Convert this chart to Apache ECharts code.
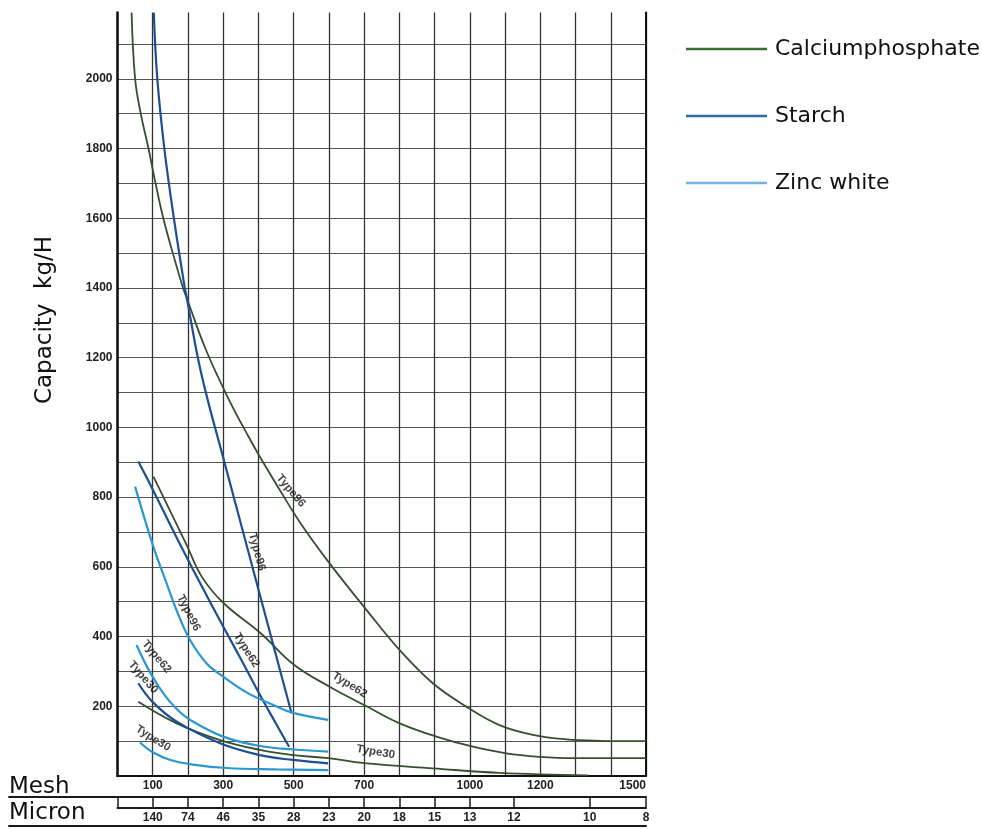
<!DOCTYPE html>
<html><head><meta charset="utf-8">
<script src="https://cdn.jsdelivr.net/npm/echarts@6/dist/echarts.min.js"></script>
<style>html,body{margin:0;padding:0;background:#fff}#c{width:982px;height:829px}</style>
</head><body><div id="c"></div>
<script>
// ---- tick labels ----
const meshTicks = [100, 300, 500, 700, 1000, 1200, 1500];
const capTicks = [200, 400, 600, 800, 1000, 1200, 1400, 1600, 1800, 2000];
const micronMesh = [100, 200, 300, 400, 500, 600, 700, 800, 900, 1000, 1125, 1340, 1500];
const micronLabels = ['140', '74', '46', '35', '28', '23', '20', '18', '15', '13', '12', '10', '8'];

// ---- series values: [mesh, capacity kg/H] ----
const calcium96 = [[40,2190],[50,2000],[66,1900],[88,1800],[108,1700],[130,1600],[157,1500],[186,1400],[197,1370],[250,1225],[319,1074],[376,966],[404,916],[461,820],[517,729],[602,610],[707,476],[801,361],[895,266],[990,199],[1084,146],[1179,118],[1274,105],[1368,101],[1500,100]];
const calcium62 = [[102,859],[139,782],[196,663],[239,572],[300,497],[408,408],[500,320],[602,256],[707,200],[801,151],[905,113],[1009,84],[1103,65],[1198,55],[1292,51],[1500,51]];
const calcium30 = [[59,213],[168,151],[291,103],[404,75],[498,60],[598,51],[707,36],[895,22],[1084,9],[1335,2]];
const starch96 = [[103,2190],[113,2000],[133,1800],[160,1600],[191,1400],[197,1370],[228,1200],[256,1079],[299,917],[357,698],[404,520],[450,346],[494,180]];
const starch62 = [[59,902],[101,820],[149,722],[196,628],[243,537],[300,429],[352,332],[404,233],[450,150],[487,84]];
const starch30 = [[59,266],[100,212],[168,156],[291,94],[404,60],[498,46],[598,36]];
const zinc96 = [[50,830],[101,660],[135,565],[169,472],[206,390],[253,323],[300,285],[366,240],[450,200],[498,181],[598,161]];
const zinc62 = [[54,376],[92,298],[130,237],[168,192],[206,161],[300,113],[404,86],[500,76],[598,70]];
const zinc30 = [[64,96],[100,68],[150,46],[220,32],[310,23],[450,19],[598,17]];

// ---- curve labels ----
const labelMesh = [492, 396, 659, 733, 366, 202, 111, 73, 101];
const labelCap = [818, 643, 261, 69, 361, 468, 342, 283, 108];
const labelText = ['Type96', 'Type96', 'Type62', 'Type30', 'Type62', 'Type96', 'Type62', 'Type30', 'Type30'];
const labelAngle = [-50, -75, -32, -10, -58, -63, -50, -49, -32];

const materials = ['Calciumphosphate', 'Starch', 'Zinc white'];
const lineColors = ['#34502e', '#1c4f93', '#2a97d0'];
const legendColors = ['#3d6b35', '#2f69a6', '#72b4df'];

const chart = echarts.init(document.getElementById('c'), null, {renderer: 'canvas'});
const txt = 'Liberation Sans, Arial, sans-serif';

function curve(name, idx, data, w) {
  return {
    name: name, type: 'line', xAxisIndex: 1, yAxisIndex: 1,
    data: data, symbol: 'none', smooth: 0.4,
    lineStyle: {color: lineColors[idx], width: w}, itemStyle: {color: lineColors[idx]},
    silent: true, z: 3
  };
}

const labelData = labelText.map((t, i) => ({
  value: [labelMesh[i], labelCap[i]],
  label: {show: true, formatter: t, rotate: labelAngle[i], position: 'inside'}
}));

const hiddenAxis = {axisLine: {show: false}, axisTick: {show: false}, axisLabel: {show: false}, splitLine: {show: false}};
const ruleLine = {show: true, onZero: false, lineStyle: {color: '#1a1a1a', width: 2}};

const option = {
  animation: false,
  backgroundColor: '#ffffff',
  title: [
    {text: 'Mesh', left: 9, top: 776, padding: 0, textStyle: {fontFamily: 'DejaVu Sans', fontSize: 23, fontWeight: 'normal', color: '#111'}},
    {text: 'Micron', left: 9, top: 802, padding: 0, textStyle: {fontFamily: 'DejaVu Sans', fontSize: 23, fontWeight: 'normal', color: '#111'}}
  ],
  legend: {
    orient: 'vertical', left: 681, top: 33,
    itemWidth: 81, itemHeight: 2.5, itemGap: 45, icon: 'rect',
    textStyle: {fontFamily: 'DejaVu Sans', fontSize: 22, color: '#111', padding: [0, 0, 0, 3]},
    data: materials.map((m, i) => ({name: m, itemStyle: {color: legendColors[i]}})),
    selectedMode: false
  },
  grid: [
    {left: 117.5, right: 336, top: 44, bottom: 53},
    {left: 117.5, right: 336, top: 12.6, bottom: 53},
    {left: 117.5, right: 336, top: 798, height: 10},
    {left: 9, right: 336, top: 797, bottom: 3}
  ],
  xAxis: [
    {gridIndex: 0, type: 'value', min: 0, max: 1500, interval: 100,
     axisLine: {show: true, onZero: false, lineStyle: {color: '#111', width: 2}}, axisTick: {show: false}, splitLine: {show: false},
     axisLabel: {formatter: v => meshTicks.includes(v) ? String(v) : '', margin: 4, fontSize: 12, fontWeight: 'bold', color: '#222', fontFamily: txt, alignMaxLabel: 'right'}},
    Object.assign({gridIndex: 1, type: 'value', min: 0, max: 1500, interval: 100}, hiddenAxis,
      {splitLine: {show: true, lineStyle: {color: '#333', width: 1.3}}}),
    {gridIndex: 2, type: 'value', min: 0, max: 1500, position: 'bottom',
     axisLine: ruleLine,
     axisTick: {show: true, inside: true, length: 10, customValues: [0].concat(micronMesh), lineStyle: {color: '#1a1a1a', width: 1.5}},
     axisLabel: {customValues: micronMesh, formatter: v => micronLabels[micronMesh.indexOf(v)] || '', margin: 4, fontSize: 12, fontWeight: 'bold', color: '#222', fontFamily: txt},
     splitLine: {show: false}},
    Object.assign({gridIndex: 3, type: 'value', min: 0, max: 1, position: 'top'}, hiddenAxis, {axisLine: ruleLine}),
    Object.assign({gridIndex: 3, type: 'value', min: 0, max: 1, position: 'bottom'}, hiddenAxis, {axisLine: ruleLine})
  ],
  yAxis: [
    {gridIndex: 0, type: 'value', min: 0, max: 2100, interval: 100,
     axisLine: {show: false}, axisTick: {show: false},
     splitLine: {show: true, lineStyle: {color: '#555', width: 1.2}},
     axisLabel: {formatter: v => capTicks.includes(v) ? String(v) : '', margin: 5, fontSize: 12, fontWeight: 'bold', color: '#222', fontFamily: txt},
     name: 'Capacity  kg/H', nameLocation: 'middle', nameRotate: 90, nameGap: 61,
     nameTextStyle: {fontFamily: 'DejaVu Sans', fontSize: 23, color: '#111', padding: [0, 0, 0, 180]}},
    Object.assign({gridIndex: 1, type: 'value', min: 0, max: 2190}, hiddenAxis,
      {axisLine: {show: true, onZero: false, lineStyle: {color: '#111', width: 2.5}}}),
    Object.assign({gridIndex: 1, type: 'value', min: 0, max: 2190, position: 'right'}, hiddenAxis,
      {axisLine: {show: true, onZero: false, lineStyle: {color: '#111', width: 2}}}),
    Object.assign({gridIndex: 2, type: 'value', min: 0, max: 1}, hiddenAxis),
    Object.assign({gridIndex: 3, type: 'value', min: 0, max: 1}, hiddenAxis)
  ],
  series: [
    curve('Calciumphosphate', 0, calcium96, 1.8),
    curve('Calciumphosphate', 0, calcium62, 1.8),
    curve('Calciumphosphate', 0, calcium30, 1.8),
    curve('Starch', 1, starch96, 2.2),
    curve('Starch', 1, starch62, 2.2),
    curve('Starch', 1, starch30, 2.2),
    curve('Zinc white', 2, zinc96, 2.2),
    curve('Zinc white', 2, zinc62, 2.2),
    curve('Zinc white', 2, zinc30, 2.2),
    {name: 'labels', type: 'scatter', xAxisIndex: 1, yAxisIndex: 1, symbolSize: 0, silent: true, z: 4,
     label: {show: true, color: '#111', fontSize: 11.5, fontWeight: 'bold', fontFamily: txt},
     data: labelData}
  ]
};
chart.setOption(option);
</script></body></html>
